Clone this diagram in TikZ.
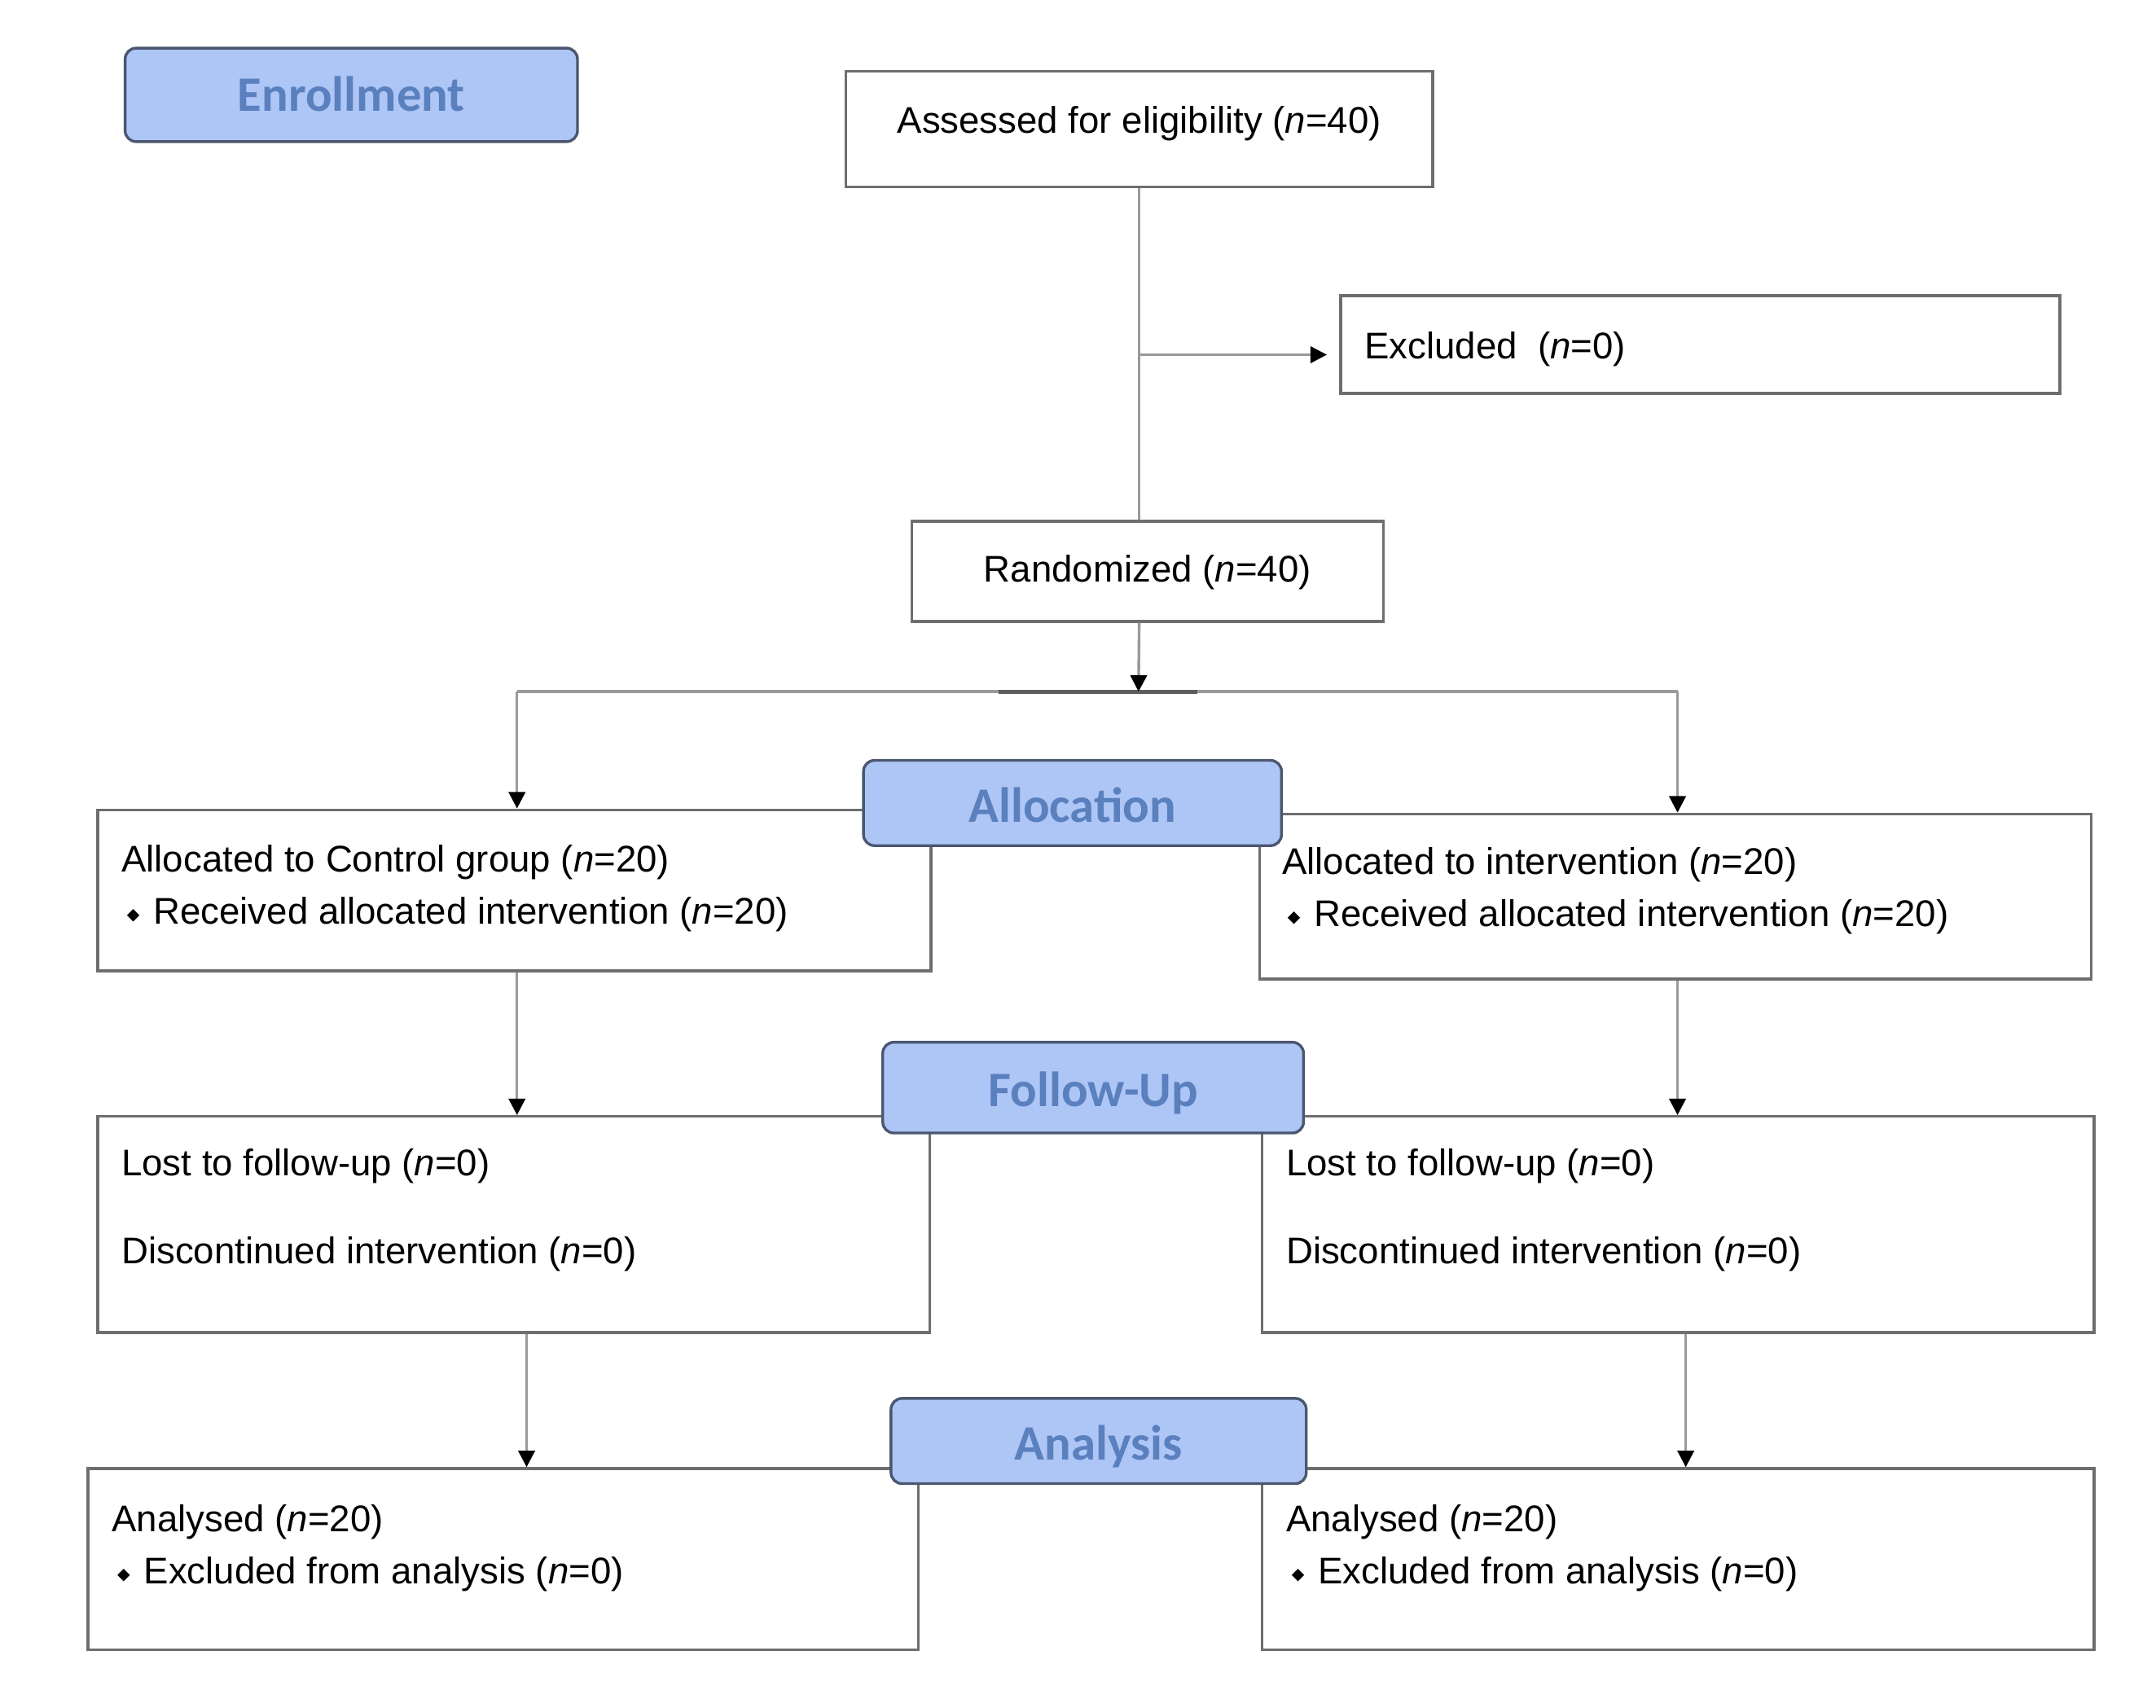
\documentclass[tikz,border=0pt]{standalone}
\usepackage{fontspec}
\setmainfont{Liberation Sans}
\newfontfamily\stagefont{Carlito}
\newfontfamily\symfont{DejaVu Sans}
\usepackage{tikz}
\usetikzlibrary{arrows.meta, positioning, calc}
\definecolor{stagefill}{HTML}{AEC6F6}
\definecolor{stagetext}{HTML}{5A80BE}
\definecolor{stageline}{HTML}{4B5770}
\definecolor{boxline}{HTML}{6E6E6E}
\definecolor{linkline}{HTML}{9A9A9A}
\definecolor{darkline}{HTML}{5E5E5E}
\newcommand{\nn}{\textit{n}}
\newcommand{\dia}{\hspace*{2pt}{\symfont\fontsize{6}{6}\selectfont\raisebox{1.5pt}{◆}}\hspace{5pt}}

\begin{document}
\begin{tikzpicture}[x=0.5pt, y=-0.5pt, >=Stealth, every node/.style={font=\fontsize{13.5}{19}\selectfont}]
            \tikzset{box/.style={draw=boxline, line width=1pt, fill=white, inner sep=0pt},
                stage/.style={draw=stageline, fill=stagefill, rounded corners=4pt, line width=1pt, text=stagetext, inner sep=0pt, text depth=0pt, text height=14pt, font=\stagefont\bfseries\fontsize{18}{20}\selectfont},
                lab/.style={inner sep=0pt, align=left},
                link/.style={draw=linkline, line width=1pt},
                tip/.style={-{Triangle[width=6pt, length=6pt, color=black, fill=black]}}}
            \useasboundingbox (0,0) rectangle (1568,1242);
            % boxes
            \node[box, minimum width=213.5pt, minimum height=42pt] (assess) at (828.5,94) {};
            \node[box, minimum width=261.5pt, minimum height=35.5pt] (excl) at (1236.5,250.5) {};
            \node[box, minimum width=171.5pt, minimum height=36.5pt] (rand) at (834.5,415.5) {};
            \node[box, minimum width=303pt, minimum height=58.5pt] (ctrl) at (374,647.5) {};
            \node[box, minimum width=302.5pt, minimum height=60pt] (intv) at (1218.5,652) {};
            \node[box, minimum width=302.5pt, minimum height=78.5pt] (fuL) at (373.5,890.5) {};
            \node[box, minimum width=302.5pt, minimum height=78.5pt] (fuR) at (1220.5,890.5) {};
            \node[box, minimum width=302pt, minimum height=66pt] (anaL) at (366,1134) {};
            \node[box, minimum width=302.5pt, minimum height=66pt] (anaR) at (1220.5,1134) {};
            % texts
            \node[lab, yshift=2pt] (assessT) at (assess) {Assessed for eligibility (\nn=40)};
            \node[lab, right=9pt of excl.west, yshift=-1.75pt] (exclT) {Excluded\ \ (\nn=0)};
            \node[lab, yshift=-0.25pt] (randT) at (rand) {Randomized (\nn=40)};
            \node[lab, right=9pt of ctrl.west, yshift=0.75pt] (ctrlT) {Allocated to Control group (\nn=20)\\\dia Received allocated intervention (\nn=20)};
            \node[lab, right=8.5pt of intv.west, yshift=2pt] (intvT) {Allocated to intervention (\nn=20)\\\dia Received allocated intervention (\nn=20)};
            \node[lab, right=9pt of fuL.west, yshift=5.25pt] (fuLT) {Lost to follow-up (\nn=0)\\[13pt]Discontinued intervention (\nn=0)};
            \node[lab, right=9pt of fuR.west, yshift=5.25pt] (fuRT) {Lost to follow-up (\nn=0)\\[13pt]Discontinued intervention (\nn=0)};
            \node[lab, right=9pt of anaL.west, yshift=4pt] (anaLT) {Analysed (\nn=20)\\\dia Excluded from analysis (\nn=0)};
            \node[lab, right=9pt of anaR.west, yshift=4pt] (anaRT) {Analysed (\nn=20)\\\dia Excluded from analysis (\nn=0)};
            % junctions
            \coordinate (excJ) at (828,258);
            \coordinate (split) at (828,503);
            \coordinate (splitL) at (376,503);
            \coordinate (splitR) at (1220,503);
            \coordinate (darkA) at (726,503);
            \coordinate (darkB) at (871,503);
            \coordinate (downL) at (383,0);
            \coordinate (downR) at (1226,0);
            % connectors
            \draw[link] (assess.south) -- (assess.south |- rand.north);
            \draw[link, tip, shorten >=4.5pt] (excJ) -- (excJ -| excl.west);
            \draw[link] (splitL) -- (splitR);
            \draw[draw=darkline, line width=1.5pt] (darkA) -- (darkB);
            \draw[link, tip] (assess.south |- rand.south) -- (split);
            \draw[link, tip] (splitL) -- (splitL |- ctrl.north);
            \draw[link, tip] (splitR) -- (splitR |- intv.north);
            \draw[link, tip] (splitL |- ctrl.south) -- (splitL |- fuL.north);
            \draw[link, tip] (splitR |- intv.south) -- (splitR |- fuR.north);
            \draw[link, tip] (downL |- fuL.south) -- (downL |- anaL.north);
            \draw[link, tip] (downR |- fuR.south) -- (downR |- anaR.north);
            % stage labels
            \node[stage, text height=11.6pt, minimum width=164.5pt, minimum height=34pt] (enrol) at (255.5,69) {Enrollment};
            \node[stage, minimum width=152pt, minimum height=31pt] (alloc) at (780,584) {Allocation};
            \node[stage, text height=13.6pt, minimum width=153pt, minimum height=33pt] (follow) at (795,791) {Follow-Up};
            \node[stage, minimum width=151pt, minimum height=31pt] (analysis) at (799,1048) {Analysis};
        \end{tikzpicture}
\end{document}
